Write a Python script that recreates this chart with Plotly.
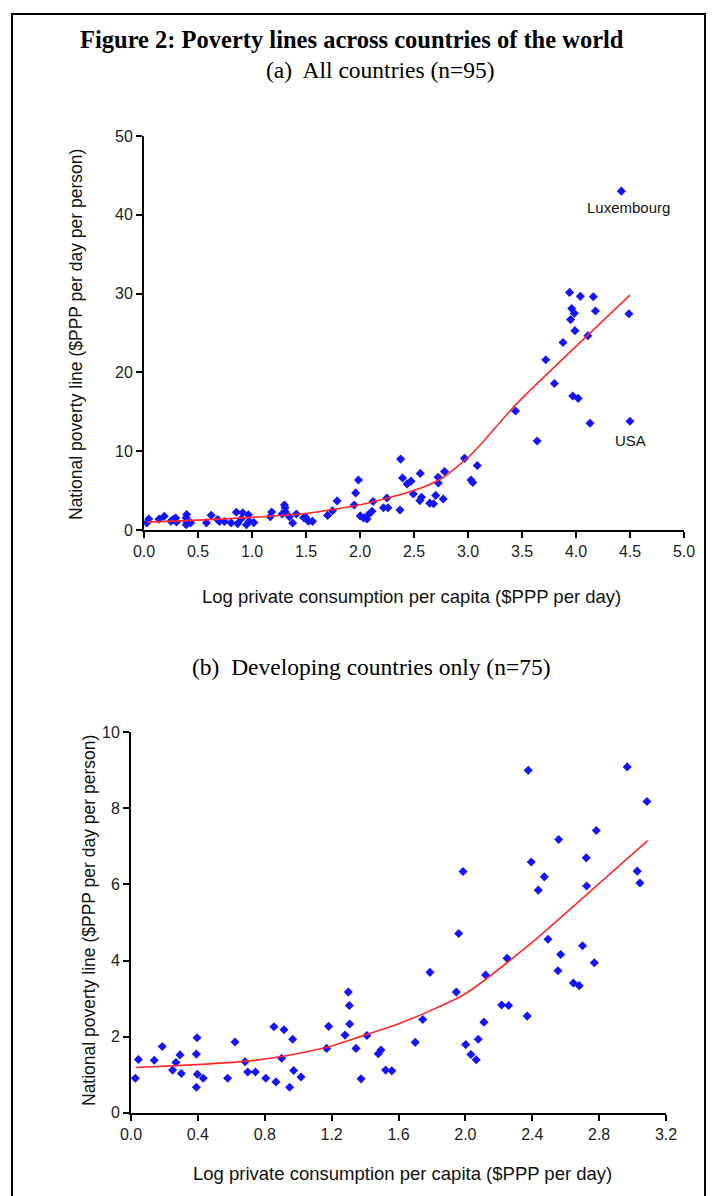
import plotly.graph_objects as go

# Developing countries (panel b, also in panel a)
dev_x = [0.026, 0.044, 0.139, 0.187, 0.249, 0.269, 0.293, 0.301, 0.395, 0.391,
         0.397, 0.391, 0.432, 0.578, 0.622, 0.682, 0.698, 0.744, 0.806, 0.855,
         0.915, 0.867, 0.901, 0.949, 0.967, 0.973, 1.017, 1.182, 1.170, 1.300,
         1.306, 1.308, 1.280, 1.346, 1.376, 1.411, 1.479, 1.495, 1.523,
         2.376, 2.968, 3.086, 2.783, 2.558, 2.723, 2.394, 1.986, 3.028, 3.044,
         2.472, 2.436, 2.725, 1.960, 2.494, 2.701, 2.570, 2.771, 2.554, 1.788,
         2.249, 2.121, 2.646, 2.681, 1.946, 2.217, 2.259, 2.370, 2.111, 1.745,
         1.700, 2.002, 2.077, 2.033, 2.065, 1.560]
dev_y = [0.905, 1.40, 1.38, 1.74, 1.12, 1.32, 1.52, 1.03, 1.97, 1.54,
         1.01, 0.67, 0.905, 0.905, 1.86, 1.34, 1.07, 1.07, 0.905, 2.26,
         2.18, 0.81, 1.43, 0.67, 1.93, 1.11, 0.94, 2.27, 1.69, 3.17,
         2.82, 2.33, 2.04, 1.69, 0.89, 2.03, 1.55, 1.65, 1.12,
         9.00, 9.09, 8.18, 7.42, 7.18, 6.70, 6.59, 6.34, 6.35, 6.04,
         6.20, 5.85, 5.96, 4.71, 4.56, 4.39, 4.16, 3.94, 3.73, 3.69,
         4.06, 3.62, 3.41, 3.34, 3.17, 2.83, 2.82, 2.54, 2.38, 2.45,
         1.85, 1.79, 1.93, 1.53, 1.39, 1.10]

# High-income countries (panel a only)
hi_x = [4.42, 3.94, 4.04, 4.16, 3.96, 3.985, 4.18, 4.49, 3.95, 3.99,
        4.11, 3.88, 3.72, 3.80, 3.97, 4.02, 3.44, 4.13, 4.50, 3.64]
hi_y = [43.0, 30.15, 29.65, 29.6, 28.1, 27.5, 27.8, 27.45, 26.7, 25.3,
        24.65, 23.8, 21.6, 18.6, 17.0, 16.7, 15.1, 13.55, 13.8, 11.3]

# Smoothed fits
fit_a_x = [0.03, 0.5, 1.0, 1.5, 2.0, 2.5, 2.75, 3.0, 3.1, 3.45, 4.5]
fit_a_y = [1.0, 1.25, 1.6, 2.1, 3.2, 5.0, 6.5, 9.2, 10.6, 16.0, 29.8]
fit_b_x = [0.03, 0.33, 0.68, 0.89, 1.17, 1.37, 1.61, 1.99, 2.37, 2.73, 3.09]
fit_b_y = [1.19, 1.25, 1.35, 1.47, 1.72, 2.0, 2.35, 3.10, 4.37, 5.75, 7.15]

xa_ticks = [0.0, 0.5, 1.0, 1.5, 2.0, 2.5, 3.0, 3.5, 4.0, 4.5, 5.0]
ya_ticks = [0, 10, 20, 30, 40, 50]
xb_ticks = [0.0, 0.4, 0.8, 1.2, 1.6, 2.0, 2.4, 2.8, 3.2]
yb_ticks = [0, 2, 4, 6, 8, 10]

W, H = 714, 1196
BLUE = "rgb(20,20,255)"
RED = "rgb(255,40,40)"
SANS = "Liberation Sans, Arial, sans-serif"
SERIF = "Liberation Serif, Times New Roman, serif"

fig = go.Figure()
all_x = dev_x + hi_x
all_y = dev_y + hi_y
fig.add_trace(go.Scatter(x=all_x, y=all_y, mode="markers", xaxis="x", yaxis="y",
                         marker=dict(symbol="diamond", size=7, color=BLUE),
                         cliponaxis=False, showlegend=False))
fig.add_trace(go.Scatter(x=fit_a_x, y=fit_a_y, mode="lines", xaxis="x", yaxis="y",
                         line=dict(color=RED, width=1.6, shape="spline", smoothing=0.6),
                         showlegend=False))
fig.add_trace(go.Scatter(x=dev_x, y=dev_y, mode="markers", xaxis="x2", yaxis="y2",
                         marker=dict(symbol="diamond", size=7, color=BLUE),
                         cliponaxis=False, showlegend=False))
fig.add_trace(go.Scatter(x=fit_b_x, y=fit_b_y, mode="lines", xaxis="x2", yaxis="y2",
                         line=dict(color=RED, width=1.6, shape="spline", smoothing=0.6),
                         showlegend=False))

axis_common = dict(showline=True, linecolor="black", linewidth=2, ticks="outside",
                   ticklen=6, tickwidth=1.5, tickcolor="black", showgrid=False,
                   zeroline=False, automargin=False,
                   tickfont=dict(family=SANS, size=16, color="#222"))

XT = "Log private consumption per capita ($PPP per day)"
YT = "National poverty line ($PPP per day per person)"

fig.update_layout(
    width=W, height=H, margin=dict(l=0, r=0, t=0, b=0, pad=0), autosize=False,
    paper_bgcolor="white", plot_bgcolor="white",
    xaxis=dict(domain=[144 / W, 684 / W], range=[0, 5], tickvals=xa_ticks,
               ticktext=[f"{v:.1f}" for v in xa_ticks], anchor="y", **axis_common),
    yaxis=dict(domain=[1 - 530 / H, 1 - 136 / H], range=[0, 50], tickvals=ya_ticks,
               anchor="x", **axis_common),
    xaxis2=dict(domain=[131 / W, 666 / W], range=[0, 3.2], tickvals=xb_ticks,
                ticktext=[f"{v:.1f}" for v in xb_ticks], anchor="y2", **axis_common),
    yaxis2=dict(domain=[1 - 1112.7 / H, 1 - 732.3 / H], range=[0, 10], tickvals=yb_ticks,
                anchor="x2", **axis_common),
)

def paper_text(text, x, y, size, family, angle=0, color="black"):
    fig.add_annotation(text=text, xref="paper", yref="paper", x=x / W, y=1 - y / H,
                       showarrow=False, textangle=angle, xanchor="center", yanchor="middle",
                       font=dict(family=family, size=size, color=color))

paper_text("<b>Figure 2: Poverty lines across countries of the world</b>", 352, 40, 24.5, SERIF)
paper_text("(a)  All countries (n=95)", 380, 70, 23.5, SERIF)
paper_text("(b)  Developing countries only (n=75)", 371, 667, 23.5, SERIF)
paper_text(XT, 412, 597, 18.5, SANS, color="#111")
paper_text(XT, 402, 1173, 18.5, SANS, color="#111")
paper_text(YT, 76, 335, 17.5, SANS, angle=-90, color="#111")
paper_text(YT, 89, 921, 17.5, SANS, angle=-90, color="#111")

fig.add_annotation(text="Luxembourg", x=4.49, y=40.9, xref="x", yref="y", showarrow=False,
                   font=dict(family=SANS, size=15, color="#111"))
fig.add_annotation(text="USA", x=4.5, y=11.4, xref="x", yref="y", showarrow=False,
                   font=dict(family=SANS, size=15, color="#111"))

fig.add_shape(type="rect", xref="paper", yref="paper", x0=12 / W, x1=705 / W,
              y0=-0.05, y1=1 - 14 / H, line=dict(color="black", width=2))

fig.write_html("out.html", config={"displayModeBar": False},
               post_script="document.body.style.margin='0';document.body.style.overflow='hidden';")
